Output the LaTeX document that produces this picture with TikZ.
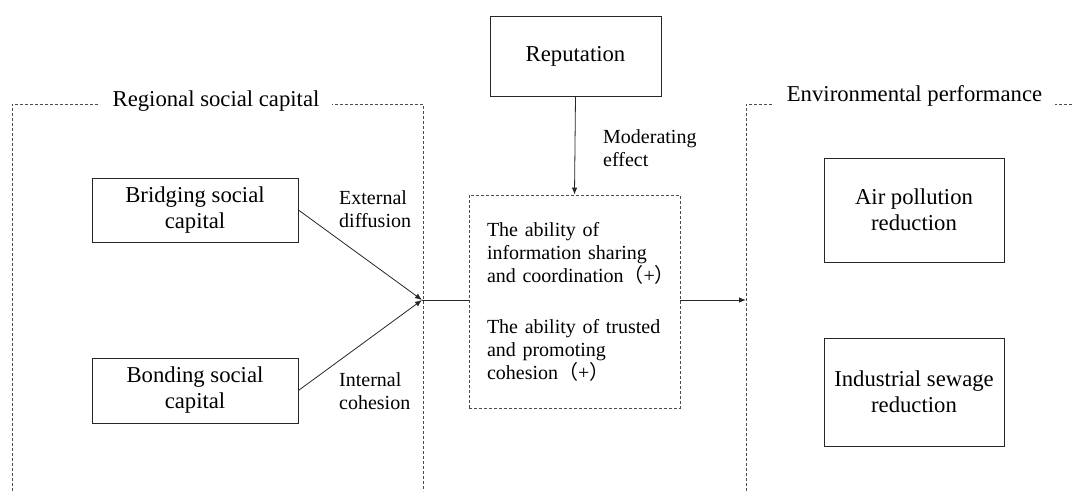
\documentclass[tikz,border=0pt]{standalone}
\usepackage{fontspec}
\setmainfont{Liberation Serif}
\newfontfamily\cjk{Noto Sans CJK SC}
\usetikzlibrary{arrows.meta}
\begin{document}
\begin{tikzpicture}[x=1pt,y=-1pt,
  big/.style={font=\fontsize{22.7}{26}\selectfont},
  small/.style={font=\fontsize{20}{23}\selectfont},
  solidbox/.style={draw=black!85,line width=0.8pt,big,align=center,inner sep=0pt},
  dashline/.style={draw=black!70,line width=0.8pt,dash pattern=on 3pt off 2pt},
  title/.style={big,fill=white,inner xsep=13pt,inner ysep=2pt,anchor=base},
  conn/.style={draw=black!85,line width=0.8pt},
  arr/.style={conn,-{Latex[length=7pt,width=5.5pt]}}]
\useasboundingbox (0,0) rectangle (1072,491);
% frames
\draw[dashline] (12,491) -- (12,104) -- (423,104) -- (423,491);
\draw[dashline] (746,491) -- (746,104) -- (1080,104);
\node[title] (regt) at (216,106) {Regional social capital};
\node[title] (envt) at (914.5,101) {Environmental performance};
% nodes
\node[solidbox,minimum width=171,minimum height=80] (rep) at (575.5,56) {Reputation};
\node[dashline,small,align=left,text width=175,minimum width=211,minimum height=213,inner xsep=18pt,inner ysep=0pt] (mid) at (574.5,301.5)
  {\mbox{The ability of}\\\mbox{information sharing}\\\mbox{and coordination{\cjk （}+{\cjk ）}}\\[28pt]\mbox{The ability of trusted}\\\mbox{and promoting}\\\mbox{cohesion{\cjk （}+{\cjk ）}}};
\node[solidbox,minimum width=206,minimum height=64] (bridge) at (195,210) {Bridging social\\capital};
\node[solidbox,minimum width=206,minimum height=65] (bond) at (195,390.5) {Bonding social\\capital};
\node[solidbox,minimum width=180,minimum height=104] (air) at (914,210) {Air pollution\\reduction};
\node[solidbox,minimum width=180,minimum height=108] (ind) at (914,392) {Industrial sewage\\reduction};
% labels
\node[small,align=left,anchor=west,inner sep=0pt] (ext) at (339,209) {External\\diffusion};
\node[small,align=left,anchor=west,inner sep=0pt] (intc) at (339,391) {Internal\\cohesion};
\node[small,align=left,anchor=west,inner sep=0pt] (mod) at (603,148) {Moderating\\effect};
% connectors
\coordinate (J) at (422,300);
\coordinate (E) at (746,300);
\draw[arr] (bridge.east) -- (J);
\draw[arr] (bond.east) -- (J);
\draw[conn] (J) -- (J -| mid.west);
\draw[arr] (E -| mid.east) -- (E);
\draw[arr] (rep.south) -- (mid.north);
\end{tikzpicture}
\end{document}
